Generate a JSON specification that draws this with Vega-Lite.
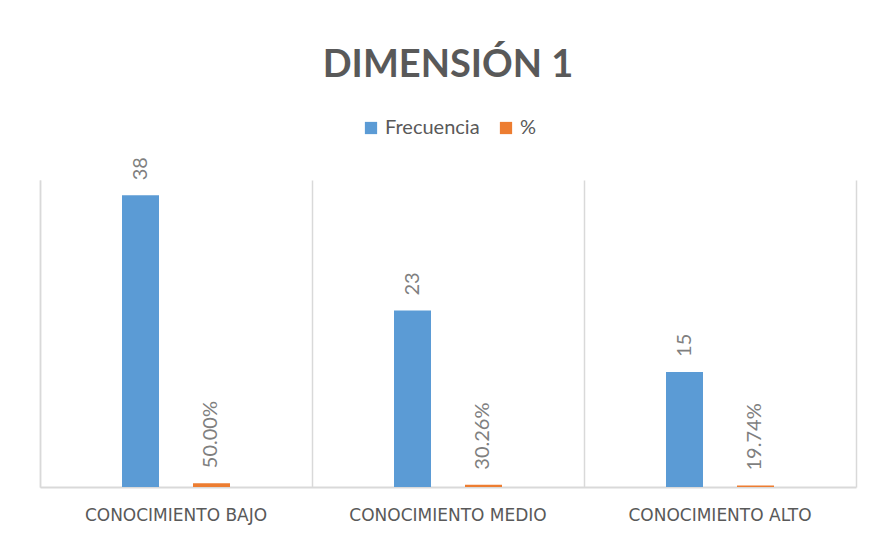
{
  "$schema": "https://vega.github.io/schema/vega-lite/v6.json",
  "width": 816,
  "height": 307,
  "autosize": {"type": "none"},
  "padding": {"left": 40, "top": 180, "right": 15, "bottom": 51},
  "background": "white",
  "title": {
    "text": "DIMENSIÓN 1",
    "anchor": "middle",
    "frame": "group",
    "font": "Lato",
    "fontSize": 38,
    "fontWeight": "bold",
    "color": "#595959",
    "offset": 33
  },
  "data": {
    "values": [
      {"categoria": "CONOCIMIENTO BAJO", "serie": "Frecuencia", "valor": 38},
      {"categoria": "CONOCIMIENTO BAJO", "serie": "%", "valor": 0.5},
      {"categoria": "CONOCIMIENTO MEDIO", "serie": "Frecuencia", "valor": 23},
      {"categoria": "CONOCIMIENTO MEDIO", "serie": "%", "valor": 0.3026},
      {"categoria": "CONOCIMIENTO ALTO", "serie": "Frecuencia", "valor": 15},
      {"categoria": "CONOCIMIENTO ALTO", "serie": "%", "valor": 0.1974}
    ]
  },
  "transform": [
    {"calculate": "datum.serie == '%' ? format(datum.valor, '.2%') : format(datum.valor, 'd')", "as": "etiqueta"}
  ],
  "encoding": {
    "x": {
      "field": "categoria",
      "type": "nominal",
      "sort": null,
      "scale": {"paddingInner": 0, "paddingOuter": 0},
      "axis": {
        "title": null,
        "labelAngle": 0,
        "bandPosition": 0,
        "grid": true,
        "gridColor": "#d9d9d9",
        "gridWidth": 1.5,
        "ticks": false,
        "domainColor": "#d9d9d9",
        "domainWidth": 2,
        "labelFont": "DejaVu Sans",
        "labelFontSize": 17,
        "labelColor": "#595959",
        "labelPadding": 20,
        "labelLimit": 0
      }
    },
    "xOffset": {
      "field": "serie",
      "type": "nominal",
      "sort": ["Frecuencia", "%"],
      "scale": {"paddingInner": 0.169, "paddingOuter": 1}
    },
    "y": {
      "field": "valor",
      "type": "quantitative",
      "scale": {"domain": [0, 40], "nice": false}
    }
  },
  "layer": [
    {
      "mark": {"type": "bar", "width": 37},
      "encoding": {
        "color": {
          "field": "serie",
          "type": "nominal",
          "sort": ["Frecuencia", "%"],
          "scale": {"domain": ["Frecuencia", "%"], "range": ["#5b9bd5", "#ed7d31"]},
          "legend": {
            "title": null,
            "orient": "none",
            "direction": "horizontal",
            "legendX": 321,
            "legendY": -62,
            "symbolType": "square",
            "symbolSize": 150,
            "symbolStrokeWidth": 0,
            "labelFont": "Lato",
            "labelFontSize": 20,
            "labelColor": "#595959",
            "columnPadding": 16,
            "labelOffset": 4
          }
        },
        "y": {
          "field": "valor",
          "type": "quantitative",
          "axis": {"title": null, "labels": false, "ticks": false, "grid": false, "domainColor": "#d9d9d9", "domainWidth": 1.5}
        }
      }
    },
    {
      "mark": {
        "type": "text",
        "angle": 270,
        "align": "left",
        "baseline": "middle",
        "dx": 15,
        "font": "Lato",
        "fontSize": 20,
        "color": "#7f7f7f"
      },
      "encoding": {
        "text": {"field": "etiqueta", "type": "nominal"},
        "y": {
          "field": "valor",
          "type": "quantitative",
          "axis": {"title": null, "orient": "right", "labels": false, "ticks": false, "grid": false, "domainColor": "#d9d9d9", "domainWidth": 1.5}
        }
      }
    }
  ],
  "resolve": {"axis": {"y": "independent"}},
  "config": {"view": {"stroke": null}}
}
